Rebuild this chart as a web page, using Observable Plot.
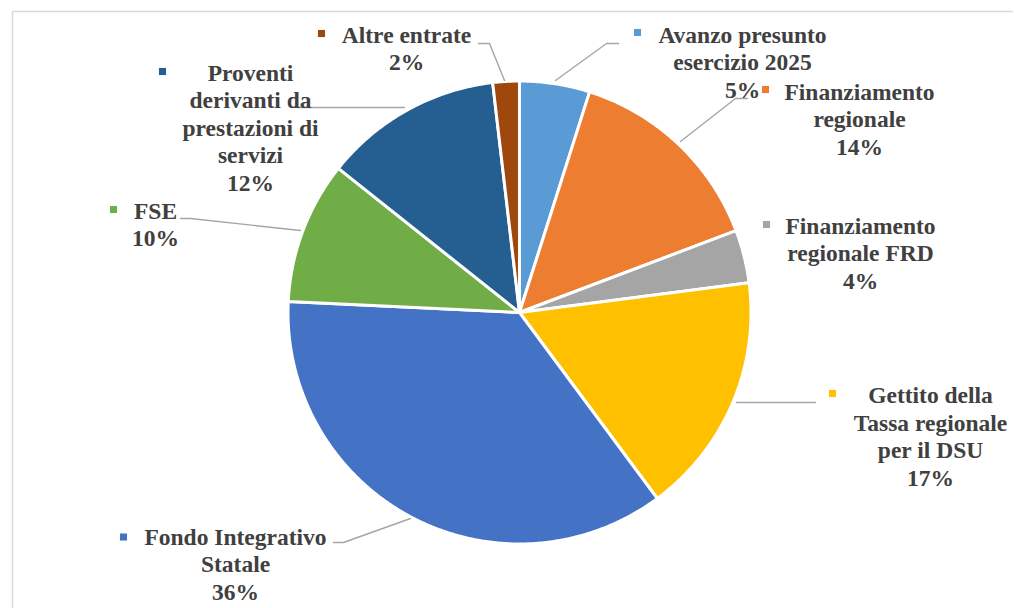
<!DOCTYPE html>
<html>
<head>
<meta charset="utf-8">
<script src="https://cdn.jsdelivr.net/npm/d3@7"></script>
<script src="https://cdn.jsdelivr.net/npm/@observablehq/plot@0.6"></script>
<style>
  html, body { margin: 0; padding: 0; background: #ffffff; }
  #chart { width: 1014px; height: 608px; overflow: hidden; }
</style>
</head>
<body>
<div id="chart"></div>
<script>
// ---- data ----
const categories = [
  "Avanzo presunto esercizio 2025",
  "Finanziamento regionale",
  "Finanziamento regionale FRD",
  "Gettito della Tassa regionale per il DSU",
  "Fondo Integrativo Statale",
  "FSE",
  "Proventi derivanti da prestazioni di servizi",
  "Altre entrate"
];
const values = [4.9, 14.35, 3.7, 16.9, 35.9, 9.95, 12.45, 1.85];
const colors = ["#5B9BD5", "#ED7D31", "#A5A5A5", "#FFC000", "#4472C4", "#70AD47", "#255E91", "#9E480E"];
const labelLines = [
  ["Avanzo presunto", "esercizio 2025"],
  ["Finanziamento", "regionale"],
  ["Finanziamento", "regionale FRD"],
  ["Gettito della", "Tassa regionale", "per il DSU"],
  ["Fondo Integrativo", "Statale"],
  ["FSE"],
  ["Proventi", "derivanti da", "prestazioni di", "servizi"],
  ["Altre entrate"]
];

// ---- layout (positions only) ----
const W = 1014, H = 608;
const pie = {cx: 519, cy: 312, r: 231.5};
const lineStep = 27.5;
const labelLayout = [
  {x: 742, y: 42,  mx: 637, my: 32},
  {x: 859, y: 99,  mx: 765, my: 89},
  {x: 860, y: 233, mx: 766, my: 224},
  {x: 930, y: 402.5, mx: 832, my: 393},
  {x: 235, y: 544, mx: 123, my: 536.5},
  {x: 155, y: 218, mx: 113, my: 209},
  {x: 250, y: 80,  mx: 162, my: 71},
  {x: 406, y: 42,  mx: 321, my: 33}
];
const leaderLayout = [
  [[618, 43], [606, 43], [555, 80]],
  [[747, 98], [735, 98], [680, 141]],
  null,
  [[815, 402], [736, 402]],
  [[333, 542], [343, 542], [410, 518]],
  [[180, 218], [190, 218], [300, 230]],
  [[298, 107], [404, 107]],
  [[478, 43], [489, 43], [504, 80]]
];

// ---- derived geometry ----
const total = d3.sum(values);
const arcs = d3.pie().sort(null).value(d => d)(values);
const slicePoints = [];
arcs.forEach((a, i) => {
  const cat = categories[i];
  slicePoints.push({cat, x: pie.cx, y: pie.cy});
  const steps = Math.max(2, Math.ceil((a.endAngle - a.startAngle) / (Math.PI / 360)));
  for (let k = 0; k <= steps; k++) {
    const t = a.startAngle + (a.endAngle - a.startAngle) * k / steps;
    slicePoints.push({cat, x: pie.cx + pie.r * Math.sin(t), y: pie.cy - pie.r * Math.cos(t)});
  }
  slicePoints.push({cat, x: pie.cx, y: pie.cy});
});

const textRows = [];
categories.forEach((cat, i) => {
  const lines = [...labelLines[i], Math.round(values[i] / total * 100) + "%"];
  lines.forEach((t, j) => {
    textRows.push({cat, text: t, x: labelLayout[i].x, y: labelLayout[i].y + j * lineStep});
  });
});
const markerRows = categories.map((cat, i) => ({cat, x: labelLayout[i].mx, y: labelLayout[i].my}));
const leaderRows = [];
leaderLayout.forEach((pts, i) => {
  if (!pts) return;
  pts.forEach(([x, y]) => leaderRows.push({cat: categories[i], x, y}));
});

const chart = Plot.plot({
  width: W,
  height: H,
  margin: 0,
  style: {background: "#ffffff", overflow: "hidden"},
  x: {domain: [0, W], range: [0, W], axis: null},
  y: {domain: [0, H], range: [0, H], axis: null},
  color: {domain: categories, range: colors},
  marks: [
    Plot.ruleX([12], {y1: 11, y2: H, stroke: "#d9d9d9", strokeWidth: 1.5}),
    Plot.ruleY([11], {x1: 12, x2: 1013, stroke: "#d9d9d9", strokeWidth: 1.5}),
    Plot.line(slicePoints, {x: "x", y: "y", z: "cat", fill: "cat", stroke: "#ffffff", strokeWidth: 3, strokeLinejoin: "round", curve: "linear"}),
    Plot.line(leaderRows, {x: "x", y: "y", z: "cat", stroke: "#a6a6a6", strokeWidth: 1.4, curve: "linear"}),
    Plot.dot(markerRows, {x: "x", y: "y", fill: "cat", symbol: "square", r: 4}),
    Plot.text(textRows, {
      x: "x", y: "y", text: "text",
      textAnchor: "middle", lineAnchor: "bottom",
      fontSize: 23.5, fontWeight: "bold", fontFamily: "Liberation Serif, Times New Roman, serif",
      fill: "#404040"
    })
  ]
});
document.getElementById("chart").appendChild(chart);
</script>
</body>
</html>
